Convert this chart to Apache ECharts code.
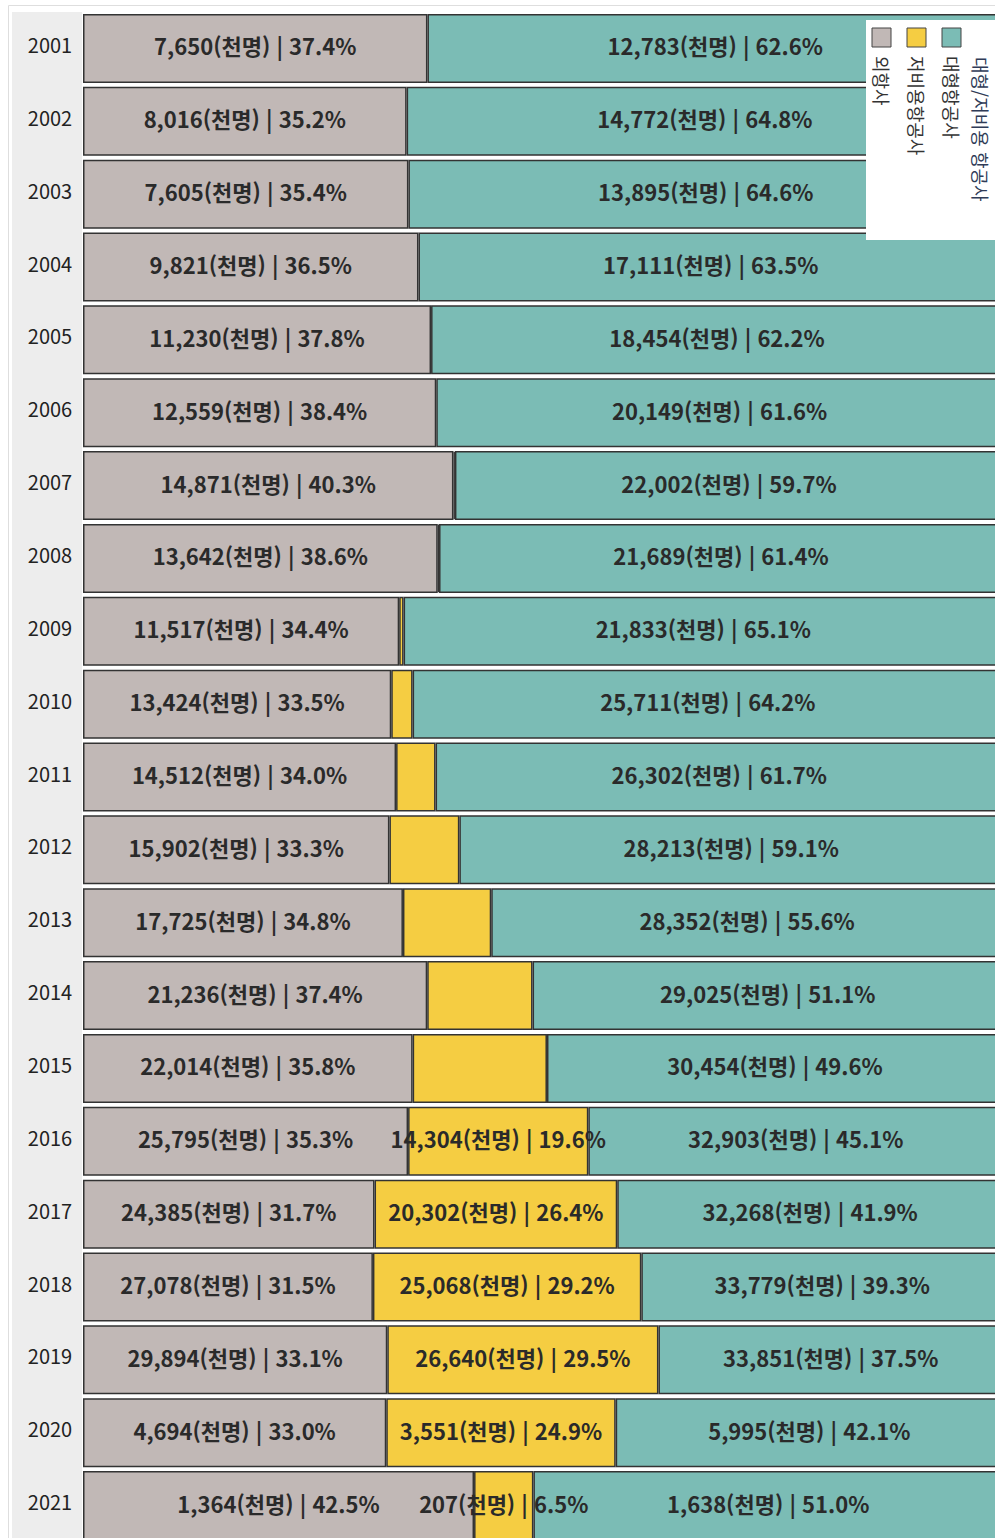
<!DOCTYPE html>
<html lang="ko">
<head>
<meta charset="utf-8">
<title>항공사 유형별 국제선 여객</title>
<script src="https://cdn.jsdelivr.net/npm/echarts@6/dist/echarts.min.js"></script>
<style>
  html, body { margin: 0; padding: 0; background: #fff; }
  #chart { width: 995px; height: 1538px; }
</style>
</head>
<body>
<div id="chart"></div>
<script>
// 연도
const years = ['2001', '2002', '2003', '2004', '2005', '2006', '2007', '2008', '2009', '2010',
  '2011', '2012', '2013', '2014', '2015', '2016', '2017', '2018', '2019', '2020', '2021']

// 여객 수 (천명)
const foreignPax = [7650, 8016, 7605, 9821, 11230, 12559, 14871, 13642, 11517, 13424,
  14512, 15902, 17725, 21236, 22014, 25795, 24385, 27078, 29894, 4694, 1364]
const lccPax = [null, null, null, null, null, null, 60, 50, 160, 930,
  1830, 3630, 4890, 6500, 8970, 14304, 20302, 25068, 26640, 3551, 207]
const fscPax = [12783, 14772, 13895, 17111, 18454, 20149, 22002, 21689, 21833, 25711,
  26302, 28213, 28352, 29025, 30454, 32903, 32268, 33779, 33851, 5995, 1638]

// 라벨에 표시된 비율 (%)
const foreignPct = [37.4, 35.2, 35.4, 36.5, 37.8, 38.4, 40.3, 38.6, 34.4, 33.5,
  34.0, 33.3, 34.8, 37.4, 35.8, 35.3, 31.7, 31.5, 33.1, 33.0, 42.5]
const lccPct = [null, null, null, null, null, null, null, null, null, null,
  null, null, null, null, null, 19.6, 26.4, 29.2, 29.5, 24.9, 6.5]
const fscPct = [62.6, 64.8, 64.6, 63.5, 62.2, 61.6, 59.7, 61.4, 65.1, 64.2,
  61.7, 59.1, 55.6, 51.1, 49.6, 45.1, 41.9, 39.3, 37.5, 42.1, 51.0]

const FONT = '"Noto Sans CJK KR", "Noto Sans", sans-serif'
const colors = { foreign: '#c1b8b6', lcc: '#f5cd42', fsc: '#7bbcb5' }

const totals = years.map((_, i) => foreignPax[i] + (lccPax[i] || 0) + fscPax[i])
const fmt = v => v.toLocaleString('en-US')

const makeSeries = (name, pax, pct, color) => ({
  name,
  type: 'bar',
  stack: 'total',
  barWidth: 69,
  itemStyle: { color, borderColor: '#333', borderWidth: 1.5 },
  label: {
    show: true,
    position: 'inside',
    offset: [0, -3],
    color: '#2a2a2a',
    fontSize: 22,
    fontWeight: 'bold',
    fontFamily: FONT,
    formatter: p => pct[p.dataIndex] == null ? '' : `${fmt(pax[p.dataIndex])}(천명) | ${pct[p.dataIndex].toFixed(1)}%`
  },
  data: pax.map((v, i) => v == null ? '-' : v / totals[i] * 100)
})

const chart = echarts.init(document.getElementById('chart'), null, { renderer: 'svg' })

// 세로로 쓰인 범례
const legendItems = [
  { name: '대형항공사', color: colors.fsc, x: 942 },
  { name: '저비용항공사', color: colors.lcc, x: 907 },
  { name: '외항사', color: colors.foreign, x: 872 }
]

const graphic = [
  { type: 'rect', z: -1, shape: { x: 8.5, y: 5.5, width: 1000, height: 1600 }, style: { fill: '#fff', stroke: '#dedede', lineWidth: 1 } },
  { type: 'rect', z: -1, shape: { x: 12, y: 12, width: 70, height: 1600 }, style: { fill: '#ededed' } },
  { type: 'rect', z: 100, shape: { x: 866, y: 20, width: 140, height: 220 }, style: { fill: '#fff' } },
  {
    type: 'text', z: 101, x: 981, y: 57, rotation: -Math.PI / 2,
    style: { text: '대형/저비용 항공사', fill: '#2f3b57', font: `18px ${FONT}`, align: 'left', verticalAlign: 'middle' }
  }
]
legendItems.forEach(item => {
  graphic.push({
    type: 'rect', z: 101, shape: { x: item.x, y: 28, width: 19, height: 19 },
    style: { fill: item.color, stroke: '#444', lineWidth: 1 }
  })
  graphic.push({
    type: 'text', z: 101, x: item.x + 9.5, y: 56, rotation: -Math.PI / 2,
    style: { text: item.name, fill: '#333', font: `18px ${FONT}`, align: 'left', verticalAlign: 'middle' }
  })
})

chart.setOption({
  animation: false,
  backgroundColor: '#fff',
  grid: { left: 83, top: 12, width: 920, height: 1530, outerBoundsMode: 'none' },
  xAxis: { type: 'value', min: 0, max: 100, show: false },
  yAxis: {
    type: 'category',
    data: years,
    inverse: true,
    axisLine: { show: false },
    axisTick: { show: false },
    axisLabel: {
      margin: 33, align: 'center', verticalAlign: 'bottom', lineHeight: 8,
      fontSize: 20, color: '#222', fontFamily: FONT
    }
  },
  graphic,
  series: [
    makeSeries('외항사', foreignPax, foreignPct, colors.foreign),
    makeSeries('저비용항공사', lccPax, lccPct, colors.lcc),
    makeSeries('대형항공사', fscPax, fscPct, colors.fsc)
  ]
})
</script>
</body>
</html>
